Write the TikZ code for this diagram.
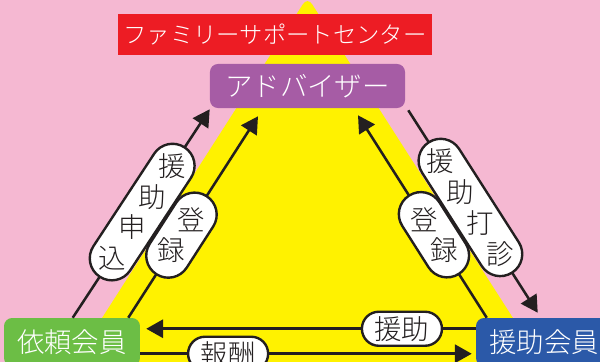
\documentclass[tikz,border=0pt]{standalone}
\usepackage{fontspec}
\newfontfamily\jp{Noto Sans CJK JP Light}
\usetikzlibrary{arrows.meta,calc}
\definecolor{bgpink}{HTML}{F5B8D2}
\definecolor{triyellow}{HTML}{FFF200}
\definecolor{fscred}{HTML}{ED1C24}
\definecolor{advpurple}{HTML}{A65CA5}
\definecolor{reqgreen}{HTML}{6CBE45}
\definecolor{supblue}{HTML}{2B59A8}
\definecolor{ink}{HTML}{231F20}
\tikzset{
  boxtext/.style={text=white, inner sep=0pt, font=\jp\fontsize{19.5}{20}\selectfont},
  arr/.style={draw=ink, line width=1.8pt, -{Triangle[length=12pt,width=13pt]}},
  hcap/.style={draw=ink, line width=1.7pt, fill=white, inner sep=0pt,
    minimum width=56.9pt, minimum height=24.2pt, rounded corners=12pt,
    text=ink, font=\jp\fontsize{19.5}{20}\selectfont},
  dcap/.style={draw=ink, line width=1.7pt, fill=white, inner sep=0pt,
    minimum height=31.3pt, rounded corners=15.6pt, sloped},
  chr/.style={inner sep=0pt, text=ink, font=\jp\fontsize{19.5}{20}\selectfont}
}
\begin{document}
\begin{tikzpicture}[x=0.025cm,y=-0.025cm]
\useasboundingbox (0,0) rectangle (600,362);
\fill[bgpink] (0,0) rectangle (600,362);
\begin{scope}
  \clip (0,0) rectangle (600,362);
  \fill[triyellow, rounded corners=6pt] (307.5,-3) -- (565.5,400) -- (49.5,400) -- cycle;
\end{scope}
% boxes
\node[fill=fscred, minimum width=223.3pt, minimum height=29.2pt, inner sep=0pt,
  text=white, font=\jp\fontsize{16.6}{17}\selectfont] (fsc) at (275,34.5) {ファミリーサポートセンター};
\node[boxtext, fill=advpurple, minimum width=138.7pt, minimum height=31.3pt,
  rounded corners=5.7pt] (adv) at (307.5,86) {アドバイザー};
\node[boxtext, fill=reqgreen, minimum width=96.7pt, minimum height=34.1pt,
  rounded corners=5.7pt] (req) at (72,342) {依頼会員};
\node[boxtext, fill=supblue, minimum width=96.7pt, minimum height=34.1pt,
  rounded corners=5.7pt] (sup) at (544,342) {援助会員};
% connection points
\coordinate (loS) at ($(req.north west)+(69,0)$);
\coordinate (loE) at ($(adv.south west)+(0,1)$);
\coordinate (liS) at ($(req.north east)+(-12,0)$);
\coordinate (liE) at ($(adv.south)+(-49.5,8)$);
\coordinate (riS) at ($(sup.north west)+(11,0)$);
\coordinate (riE) at ($(adv.south)+(50.5,7)$);
\coordinate (roS) at ($(adv.south east)+(3,2)$);
\coordinate (roE) at ($(sup.north west)+(62,-5)$);
\coordinate (huS) at ($(sup.north west)+(0,11)$);
\coordinate (huE) at ($(req.north east)+(6,11)$);
\coordinate (hlS) at ($(req.north east)+(0,36)$);
\coordinate (hlE) at ($(sup.north west)+(-4,36)$);
% left outer: 援助申込
\draw[arr] (loS) -- (loE)
  node[dcap, pos=0.507, minimum width=110pt] (capA) {}
  node[chr, pos=0.729] (a1) {援}
  node[chr, pos=0.581] (a2) {助}
  node[chr, pos=0.433] (a3) {申}
  node[chr, pos=0.285] (a4) {込};
% left inner: 登録
\draw[arr] (liS) -- (liE)
  node[dcap, pos=0.41, minimum width=66pt] (capB) {}
  node[chr, pos=0.486] (b1) {登}
  node[chr, pos=0.334] (b2) {録};
% right inner: 登録
\draw[arr] (riS) -- (riE)
  node[dcap, pos=0.41, minimum width=66pt] (capC) {}
  node[chr, pos=0.486] (c1) {登}
  node[chr, pos=0.334] (c2) {録};
% right outer: 援助打診
\draw[arr] (roS) -- (roE)
  node[dcap, pos=0.48, minimum width=110pt] (capD) {}
  node[chr, pos=0.25] (d1) {援}
  node[chr, pos=0.403] (d2) {助}
  node[chr, pos=0.557] (d3) {打}
  node[chr, pos=0.71] (d4) {診};
% horizontals
\draw[arr] (huS) -- (huE) node[hcap, pos=0.224] (capE) {援助};
\draw[arr] (hlS) -- (hlE) node[hcap, pos=0.265] (capF) {報酬};
\end{tikzpicture}
\end{document}
